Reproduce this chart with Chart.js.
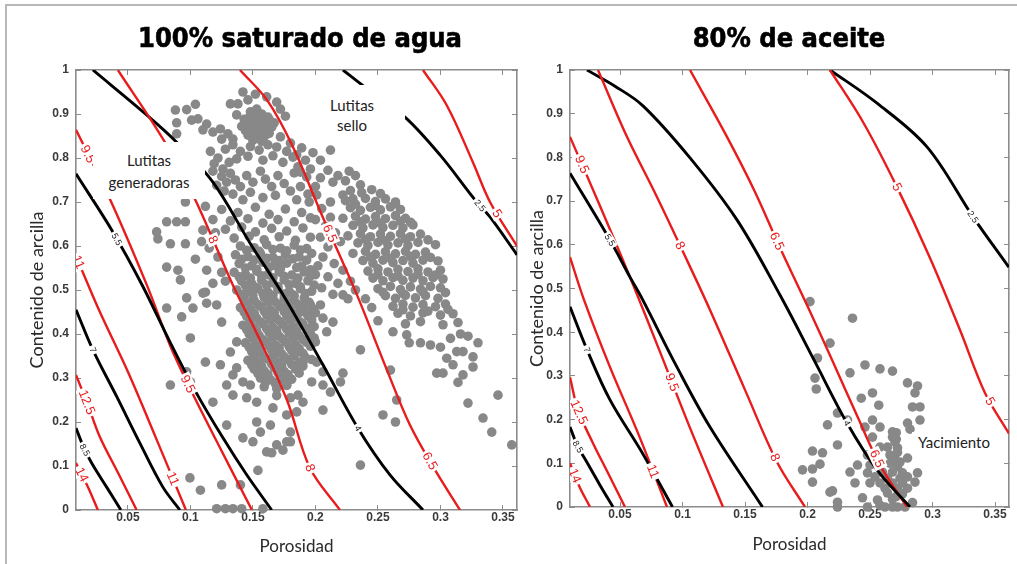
<!DOCTYPE html>
<html lang="es">
<head>
<meta charset="utf-8">
<title>Contenido de arcilla vs porosidad</title>
<script src="https://cdn.jsdelivr.net/npm/chart.js@4.4.1/dist/chart.umd.min.js"></script>
<style>
  html, body { margin:0; padding:0; background:#fff; }
  #lienzo { position:relative; width:1017px; height:564px; overflow:hidden; font-family: Lato, "Open Sans", sans-serif; }
  canvas { position:absolute; left:0; top:0; }
  .titulo { position:absolute; top:23px; line-height:30px; font-family:"DejaVu Sans Condensed","DejaVu Sans",sans-serif; font-stretch:condensed; font-weight:bold; font-size:27px; color:#000; -webkit-text-stroke:0.6px #000; transform:translateX(-50%); white-space:nowrap; }
  .nota { position:absolute; background:#fff; color:#222; font-size:15px; text-align:center; box-sizing:border-box; }
  .marco { position:absolute; background:#b8b8b8; }
</style>
</head>
<body>
<div id="lienzo">
  <div class="marco" style="left:5px; top:4px; width:1012px; height:2px"></div>
  <div class="marco" style="left:5px; top:4px; width:2px; height:560px"></div>
  <canvas id="graficoIzq" width="1017" height="564"></canvas>
  <canvas id="graficoDer" width="1017" height="564"></canvas>
  <div class="titulo" style="left:300px">100% saturado de agua</div>
  <div class="titulo" style="left:789px">80% de aceite</div>
  <div class="nota" style="left:93px; top:142px; width:112px; height:57px; padding-top:7px; line-height:22px">Lutitas<br>generadoras</div>
  <div class="nota" style="left:305px; top:85px; width:100px; height:57px; padding:10px 6px 0 0; line-height:20px">Lutitas<br>sello</div>
  <div class="nota" style="left:912px; top:432px; width:84px; height:20px; line-height:20px">Yacimiento</div>
</div>
<script>
// marcas de los ejes
const xMarcas = [0.05, 0.1, 0.15, 0.2, 0.25, 0.3, 0.35];
const xEtiquetas = ['0.05', '0.1', '0.15', '0.2', '0.25', '0.3', '0.35'];
const yMarcas = [0, 0.1, 0.2, 0.3, 0.4, 0.5, 0.6, 0.7, 0.8, 0.9, 1];
const yEtiquetas = ['0', '0.1', '0.2', '0.3', '0.4', '0.5', '0.6', '0.7', '0.8', '0.9', '1'];

// ---- 100% saturado de agua: curvas (porosidad, arcilla)
const izqRojo14 = [[0.0085,0.107],[0.015,0.07],[0.020,0.04],[0.026,0]];
const izqNegro85 = [[0.0085,0.186],[0.015,0.14],[0.021,0.107],[0.033,0.052],[0.0444,0]];
const izqRojo125 = [[0.0085,0.307],[0.018,0.239],[0.0276,0.166],[0.0424,0.083],[0.057,0]];
const izqNegro7 = [[0.0085,0.455],[0.022,0.364],[0.0412,0.257],[0.0596,0.152],[0.078,0.052],[0.0916,0]];
const izqRojo11 = [[0.0085,0.577],[0.0268,0.455],[0.05,0.314],[0.0724,0.164],[0.0964,0]];
const izqNegro55 = [[0.0085,0.764],[0.038,0.632],[0.062,0.508],[0.0836,0.382],[0.1044,0.268],[0.126,0.164],[0.145,0.08],[0.165,0]];
const izqRojo95 = [[0.0085,0.864],[0.0356,0.707],[0.0652,0.511],[0.0836,0.375],[0.0972,0.291],[0.1212,0.155],[0.1492,0]];
const izqRojo8 = [[0.042,1.0],[0.0796,0.836],[0.1036,0.707],[0.134,0.511],[0.153,0.402],[0.1772,0.25],[0.1956,0.0955],[0.2196,0]];
const izqNegro4 = [[0.022,1.0],[0.065,0.898],[0.089,0.836],[0.118,0.745],[0.1476,0.607],[0.1756,0.482],[0.206,0.33],[0.234,0.186],[0.2596,0.08],[0.286,0]];
const izqRojo65 = [[0.1396,1.0],[0.1612,0.932],[0.1812,0.83],[0.2052,0.670],[0.2332,0.489],[0.2572,0.318],[0.2756,0.193],[0.2956,0.091],[0.3156,0]];
const izqNegro25 = [[0.222,1.0],[0.2396,0.961],[0.2716,0.893],[0.2996,0.807],[0.3276,0.705],[0.3396,0.666],[0.3612,0.58]];
const izqRojo5 = [[0.286,1.0],[0.305,0.92],[0.326,0.79],[0.3396,0.70],[0.3612,0.60]];

// ---- 80% de aceite: curvas
const derRojo14 = [[0.01,0.10],[0.017,0.05],[0.026,0]];
const derNegro85 = [[0.01,0.183],[0.016,0.14],[0.024,0.10],[0.034,0.05],[0.0444,0]];
const derRojo125 = [[0.01,0.297],[0.0164,0.222],[0.0284,0.146],[0.04,0.08],[0.054,0]];
const derNegro7 = [[0.01,0.458],[0.0236,0.36],[0.042,0.245],[0.068,0.123],[0.092,0]];
const derRojo11 = [[0.01,0.572],[0.0212,0.474],[0.042,0.32],[0.0644,0.169],[0.0876,0]];
const derNegro55 = [[0.01,0.764],[0.042,0.611],[0.058,0.526],[0.068,0.475],[0.0956,0.32],[0.122,0.183],[0.164,0]];
const derRojo95 = [[0.01,0.847],[0.034,0.689],[0.058,0.526],[0.082,0.355],[0.106,0.181],[0.1324,0]];
const derRojo8 = [[0.0324,1],[0.0556,0.847],[0.0788,0.714],[0.1004,0.584],[0.122,0.451],[0.15,0.268],[0.1756,0.103],[0.198,0]];
const derNegro4 = [[0.0236,1],[0.046,0.963],[0.0684,0.918],[0.106,0.799],[0.1436,0.657],[0.178,0.485],[0.206,0.332],[0.2316,0.192],[0.2556,0.085],[0.282,0]];
const derRojo65 = [[0.106,1],[0.1356,0.847],[0.158,0.721],[0.178,0.593],[0.1996,0.462],[0.2204,0.332],[0.2404,0.204],[0.258,0.096],[0.2796,0]];
const derRojo5 = [[0.218,1],[0.2444,0.881],[0.2716,0.732],[0.298,0.570],[0.322,0.405],[0.342,0.261],[0.3612,0.168]];
const derNegro25 = [[0.218,1],[0.2556,0.924],[0.2956,0.824],[0.3324,0.664],[0.361,0.549]];

// ---- muestras (porosidad, arcilla)
const izqPuntos = [
 [0.088,0.909],[0.097,0.910],[0.104,0.922],[0.089,0.880],[0.089,0.855],[0.101,0.886],[0.106,0.889],[0.113,0.877],[0.110,0.864],[0.118,0.859],
 [0.124,0.866],[0.130,0.855],[0.134,0.843],[0.132,0.923],[0.138,0.923],[0.142,0.950],[0.137,0.898],[0.148,0.905],[0.153,0.911],[0.157,0.900],
 [0.161,0.882],[0.169,0.927],[0.172,0.911],[0.146,0.932],[0.152,0.945],[0.161,0.939],[0.176,0.895],[0.125,0.843],
 [0.143,0.888],[0.147,0.892],[0.151,0.895],[0.155,0.890],[0.159,0.893],[0.163,0.887],[0.145,0.875],[0.149,0.879],[0.153,0.877],[0.157,0.880],
 [0.161,0.874],[0.165,0.870],[0.144,0.862],[0.148,0.866],[0.152,0.862],[0.156,0.866],[0.160,0.860],[0.146,0.852],[0.151,0.850],[0.155,0.853],
 [0.159,0.848],[0.163,0.856],[0.167,0.880],[0.141,0.872],[0.150,0.840],[0.157,0.838],
 [0.149,0.886],[0.153,0.868],[0.157,0.858],[0.161,0.866],[0.155,0.879],[0.147,0.870],[0.151,0.857],[0.159,0.884],
 [0.153,0.884],[0.150,0.870],[0.157,0.872],[0.154,0.860],[0.162,0.893],[0.145,0.884],
 [0.134,0.830],[0.148,0.826],[0.140,0.815],[0.162,0.830],[0.172,0.848],[0.169,0.825],[0.180,0.834],[0.189,0.823],[0.182,0.802],[0.192,0.795],
 [0.177,0.815],[0.155,0.818],[0.146,0.804],[0.166,0.805],[0.174,0.790],[0.158,0.795],[0.116,0.815],[0.122,0.800],[0.128,0.820],[0.119,0.787],
 [0.131,0.790],[0.126,0.775],[0.137,0.798],[0.198,0.812],[0.204,0.795],[0.212,0.818],[0.186,0.780],[0.196,0.775],[0.210,0.772],[0.204,0.755],
 [0.218,0.760],[0.227,0.770],[0.183,0.766],[0.193,0.757],[0.214,0.745],[0.224,0.748],[0.232,0.760],[0.188,0.768],[0.185,0.807],
 [0.118,0.770],[0.125,0.758],[0.132,0.765],[0.129,0.745],[0.121,0.738],[0.136,0.750],[0.140,0.735],[0.127,0.725],[0.134,0.718],[0.145,0.760],
 [0.150,0.745],[0.156,0.770],[0.160,0.752],[0.148,0.722],[0.165,0.735],[0.170,0.760],[0.175,0.742],[0.168,0.715],[0.180,0.725],[0.158,0.710],
 [0.142,0.705],[0.188,0.735],[0.185,0.705],[0.194,0.718],[0.200,0.735],[0.201,0.716],[0.212,0.700],[0.222,0.716],[0.230,0.707],[0.236,0.739],
 [0.073,0.632],[0.081,0.655],[0.089,0.655],[0.096,0.655],[0.074,0.616],[0.084,0.605],[0.096,0.605],[0.081,0.552],[0.090,0.545],[0.092,0.523],
 [0.104,0.570],[0.109,0.610],[0.110,0.636],[0.096,0.700],[0.112,0.690],[0.118,0.660],[0.120,0.630],[0.115,0.595],[0.122,0.575],[0.113,0.545],
 [0.125,0.540],[0.118,0.515],[0.128,0.520],[0.112,0.495],[0.081,0.459],[0.093,0.439],[0.097,0.482],[0.102,0.459],[0.110,0.493],[0.113,0.470],
 [0.100,0.391],[0.112,0.336],[0.084,0.284],[0.100,0.291],[0.118,0.245],[0.121,0.466],[0.125,0.427],[0.137,0.382],[0.132,0.359],[0.124,0.330],
 [0.137,0.323],[0.142,0.291],[0.148,0.284],[0.134,0.307],[0.129,0.284],[0.134,0.261],[0.145,0.255],[0.153,0.245],[0.097,0.314],
 [0.125,0.683],[0.138,0.676],[0.152,0.688],[0.163,0.672],[0.176,0.684],[0.189,0.676],
 [0.132,0.657],[0.146,0.662],[0.158,0.652],[0.170,0.660],[0.183,0.655],[0.196,0.664],
 [0.128,0.638],[0.141,0.643],[0.152,0.632],[0.165,0.640],[0.177,0.634],[0.190,0.641],
 [0.135,0.618],[0.147,0.622],[0.159,0.614],[0.171,0.621],[0.184,0.613],[0.196,0.620],
 [0.140,0.600],[0.151,0.596],[0.161,0.603],[0.172,0.595],[0.183,0.602],[0.193,0.594],
 [0.136,0.580],[0.146,0.576],[0.156,0.583],[0.166,0.574],[0.176,0.581],[0.187,0.575],[0.197,0.583],
 [0.139,0.560],[0.149,0.555],[0.158,0.563],[0.167,0.556],[0.177,0.561],[0.189,0.554],
 [0.135,0.540],[0.144,0.536],[0.153,0.543],[0.162,0.535],[0.171,0.541],[0.181,0.534],[0.191,0.541],[0.200,0.535],
 [0.141,0.520],[0.149,0.515],[0.157,0.522],[0.166,0.516],[0.175,0.523],[0.184,0.515],[0.194,0.521],
 [0.137,0.500],[0.146,0.496],[0.154,0.503],[0.162,0.495],[0.170,0.502],[0.179,0.496],[0.188,0.503],[0.197,0.497],
 [0.143,0.480],[0.151,0.476],[0.159,0.483],[0.167,0.475],[0.175,0.482],[0.183,0.476],[0.191,0.482],
 [0.140,0.460],[0.148,0.456],[0.156,0.463],[0.164,0.455],[0.172,0.462],[0.180,0.456],[0.189,0.463],[0.198,0.457],
 [0.145,0.440],[0.153,0.436],[0.161,0.443],[0.169,0.435],[0.177,0.442],[0.185,0.436],[0.194,0.441],
 [0.142,0.420],[0.150,0.416],[0.158,0.423],[0.166,0.415],[0.174,0.422],[0.182,0.416],[0.190,0.423],[0.199,0.417],
 [0.147,0.400],[0.155,0.396],[0.163,0.403],[0.171,0.395],[0.179,0.402],[0.187,0.396],[0.196,0.401],
 [0.144,0.380],[0.152,0.376],[0.160,0.383],[0.168,0.375],[0.176,0.382],[0.184,0.376],[0.193,0.381],
 [0.149,0.360],[0.157,0.356],[0.165,0.363],[0.173,0.355],[0.181,0.362],[0.190,0.356],
 [0.146,0.340],[0.154,0.336],[0.162,0.343],[0.170,0.335],[0.178,0.342],[0.187,0.336],[0.197,0.342],
 [0.151,0.320],[0.159,0.316],[0.167,0.323],[0.175,0.315],[0.184,0.321],
 [0.156,0.300],[0.164,0.296],[0.172,0.303],[0.181,0.297],
 [0.159,0.280],[0.169,0.276],[0.177,0.283],
 [0.145,0.590],[0.155,0.588],[0.166,0.592],[0.177,0.589],[0.188,0.591],
 [0.141,0.570],[0.151,0.568],[0.161,0.572],[0.171,0.567],[0.182,0.571],[0.193,0.568],
 [0.144,0.550],[0.153,0.547],[0.163,0.552],[0.172,0.548],[0.185,0.551],[0.196,0.546],
 [0.139,0.530],[0.148,0.527],[0.157,0.532],[0.166,0.528],[0.175,0.531],[0.186,0.527],[0.196,0.532],
 [0.144,0.510],[0.152,0.506],[0.161,0.511],[0.170,0.508],[0.179,0.512],[0.188,0.507],[0.199,0.511],
 [0.141,0.490],[0.150,0.487],[0.158,0.492],[0.166,0.488],[0.175,0.491],[0.183,0.487],[0.192,0.492],
 [0.146,0.470],[0.154,0.467],[0.162,0.472],[0.170,0.468],[0.178,0.471],[0.186,0.467],[0.195,0.472],
 [0.143,0.450],[0.151,0.447],[0.159,0.452],[0.167,0.448],[0.175,0.451],[0.183,0.447],[0.191,0.452],[0.200,0.448],
 [0.148,0.430],[0.156,0.427],[0.164,0.432],[0.172,0.428],[0.180,0.431],[0.188,0.427],[0.197,0.432],
 [0.145,0.410],[0.153,0.407],[0.161,0.412],[0.169,0.408],[0.177,0.411],[0.185,0.407],[0.193,0.412],
 [0.150,0.390],[0.158,0.387],[0.166,0.392],[0.174,0.388],[0.182,0.391],[0.190,0.387],[0.199,0.391],
 [0.147,0.370],[0.155,0.367],[0.163,0.372],[0.171,0.368],[0.179,0.371],[0.187,0.367],[0.196,0.372],
 [0.151,0.350],[0.159,0.347],[0.167,0.352],[0.175,0.348],[0.183,0.351],[0.192,0.347],
 [0.149,0.330],[0.157,0.327],[0.165,0.332],[0.173,0.328],[0.181,0.331],[0.190,0.327],
 [0.154,0.310],[0.162,0.307],[0.170,0.312],[0.178,0.308],[0.187,0.311],
 [0.160,0.290],[0.168,0.287],[0.176,0.292],
 [0.182,0.489],[0.188,0.450],[0.196,0.466],[0.204,0.466],[0.206,0.436],[0.214,0.427],[0.209,0.405],[0.196,0.414],[0.200,0.382],[0.185,0.359],
 [0.190,0.336],[0.201,0.336],[0.206,0.314],[0.197,0.291],[0.186,0.261],[0.206,0.284],[0.212,0.268],[0.220,0.291],[0.222,0.311],[0.190,0.245],
 [0.206,0.227],[0.180,0.177],[0.180,0.155],[0.222,0.489],
 [0.195,0.700],[0.205,0.685],[0.212,0.665],[0.200,0.660],[0.208,0.645],[0.216,0.630],[0.204,0.620],[0.210,0.598],[0.220,0.610],[0.206,0.575],
 [0.215,0.560],[0.202,0.555],[0.222,0.545],[0.210,0.530],[0.218,0.515],[0.205,0.505],[0.228,0.520],[0.214,0.490],[0.226,0.480],[0.232,0.500],
 [0.228,0.726],[0.237,0.721],[0.245,0.728],[0.252,0.719],
 [0.224,0.703],[0.240,0.708],[0.248,0.701],[0.256,0.707],[0.264,0.700],
 [0.228,0.687],[0.236,0.681],[0.244,0.688],[0.252,0.682],[0.260,0.689],[0.268,0.683],
 [0.222,0.663],[0.232,0.668],[0.240,0.661],[0.248,0.667],[0.256,0.662],[0.264,0.669],[0.272,0.663],
 [0.230,0.647],[0.238,0.641],[0.246,0.648],[0.254,0.642],[0.262,0.647],[0.270,0.641],[0.278,0.648],
 [0.226,0.623],[0.236,0.628],[0.244,0.621],[0.252,0.627],[0.260,0.622],[0.268,0.628],[0.276,0.621],[0.284,0.627],
 [0.234,0.607],[0.242,0.601],[0.250,0.608],[0.258,0.602],[0.266,0.607],[0.274,0.601],[0.282,0.608],[0.296,0.603],
 [0.230,0.583],[0.240,0.588],[0.248,0.581],[0.256,0.587],[0.264,0.582],[0.272,0.588],[0.280,0.581],[0.288,0.586],
 [0.238,0.567],[0.246,0.561],[0.254,0.568],[0.262,0.562],[0.270,0.567],[0.278,0.561],[0.286,0.568],[0.298,0.566],
 [0.242,0.543],[0.250,0.548],[0.258,0.541],[0.266,0.547],[0.274,0.542],[0.282,0.548],[0.290,0.541],[0.300,0.545],
 [0.246,0.527],[0.254,0.521],[0.262,0.528],[0.270,0.522],[0.278,0.527],[0.286,0.521],[0.294,0.528],[0.302,0.525],
 [0.250,0.503],[0.260,0.508],[0.268,0.501],[0.276,0.507],[0.284,0.502],[0.292,0.508],[0.300,0.505],
 [0.256,0.487],[0.264,0.481],[0.272,0.488],[0.280,0.482],[0.288,0.487],[0.298,0.481],
 [0.262,0.463],[0.270,0.468],[0.278,0.461],[0.286,0.467],[0.296,0.462],[0.304,0.468],
 [0.266,0.447],[0.276,0.441],[0.286,0.448],[0.300,0.443],[0.310,0.446],
 [0.272,0.423],[0.284,0.428],[0.302,0.421],[0.314,0.426],
 [0.232,0.695],[0.248,0.692],[0.264,0.696],[0.236,0.655],[0.252,0.652],[0.268,0.656],[0.276,0.654],
 [0.240,0.615],[0.256,0.612],[0.272,0.616],[0.290,0.614],[0.244,0.575],[0.260,0.572],[0.276,0.576],[0.292,0.574],
 [0.250,0.535],[0.266,0.532],[0.282,0.536],[0.296,0.534],[0.254,0.495],[0.270,0.492],[0.286,0.496],[0.304,0.494],
 [0.270,0.455],[0.290,0.452],[0.306,0.456],
 [0.273,0.398],[0.275,0.380],[0.284,0.380],[0.292,0.375],[0.300,0.370],[0.308,0.390],[0.313,0.360],[0.305,0.345],[0.318,0.360],[0.326,0.348],
 [0.326,0.325],[0.310,0.330],[0.314,0.290],[0.318,0.307],[0.297,0.311],[0.302,0.311],[0.322,0.243],[0.334,0.209],[0.341,0.177],[0.346,0.261],
 [0.357,0.148],[0.260,0.318],[0.265,0.250],[0.254,0.216],[0.264,0.200],[0.236,0.364],[0.236,0.102],[0.316,0.400],[0.322,0.395],[0.330,0.380],
 [0.262,0.405],[0.250,0.430],[0.245,0.460],[0.240,0.480],
 [0.142,0.164],[0.153,0.200],[0.156,0.177],[0.164,0.193],[0.177,0.155],[0.161,0.132],[0.169,0.148],[0.154,0.090],[0.0996,0.073],[0.125,0.057],
 [0.140,0.057],[0.121,0.003],[0.128,0.003],[0.134,0.003],[0.141,0.003],[0.158,0.003],[0.108,0.045],[0.169,0.290],[0.177,0.284],[0.169,0.260],
 [0.180,0.255],[0.166,0.232],[0.177,0.216],[0.185,0.223],[0.129,0.193],[0.150,0.155],[0.165,0.130],[0.174,0.136]
];
const derPuntos = [
 [0.202,0.470],[0.236,0.432],[0.218,0.375],[0.208,0.341],[0.206,0.295],[0.207,0.270],[0.246,0.325],[0.234,0.307],[0.258,0.316],[0.268,0.311],
 [0.280,0.284],[0.288,0.277],[0.286,0.261],[0.252,0.261],[0.243,0.249],[0.257,0.233],[0.284,0.229],[0.290,0.229],[0.224,0.215],[0.232,0.199],
 [0.252,0.199],[0.290,0.199],[0.216,0.188],[0.246,0.183],[0.258,0.183],[0.268,0.172],[0.280,0.192],[0.282,0.178],[0.252,0.160],[0.268,0.160],
 [0.270,0.149],[0.224,0.142],[0.258,0.137],[0.264,0.137],[0.272,0.135],[0.204,0.128],[0.212,0.124],[0.248,0.119],[0.266,0.119],[0.256,0.112],
 [0.280,0.112],[0.210,0.098],[0.240,0.096],[0.250,0.096],[0.266,0.100],[0.274,0.103],[0.196,0.085],[0.204,0.087],[0.234,0.080],[0.248,0.078],
 [0.260,0.080],[0.268,0.080],[0.276,0.078],[0.288,0.078],[0.254,0.069],[0.264,0.066],[0.274,0.066],[0.280,0.069],[0.204,0.057],[0.238,0.055],
 [0.250,0.055],[0.258,0.055],[0.268,0.055],[0.276,0.055],[0.286,0.057],[0.262,0.043],[0.272,0.043],[0.280,0.043],[0.220,0.037],[0.264,0.032],
 [0.276,0.030],[0.244,0.021],[0.256,0.016],[0.268,0.018],[0.224,0.011],[0.224,0],[0.248,0],[0.262,0],[0.268,0],[0.272,0],
 [0.278,0],[0.218,0.034],[0.271,0.170],[0.271,0.155],[0.272,0.125],[0.270,0.110],[0.272,0.092],[0.271,0.024],[0.258,0.004],[0.284,0.010]
];

const ROJO = 'rgb(232,28,28)';
const NEGRO = '#000';

// curvas y sus etiquetas: [datos, color, [texto, porosidad de la etiqueta]...]
const curvasIzq = [
  [izqRojo14, ROJO, ['14', 0.0132]],
  [izqNegro85, NEGRO, ['8.5', 0.0156]],
  [izqRojo125, ROJO, ['12.5', 0.0172]],
  [izqNegro7, NEGRO, ['7', 0.022]],
  [izqRojo11, ROJO, ['11', 0.0105], ['11', 0.086]],
  [izqNegro55, NEGRO, ['5.5', 0.0412]],
  [izqRojo95, ROJO, ['9.5', 0.018], ['9.5', 0.098]],
  [izqRojo8, ROJO, ['8', 0.118], ['8', 0.1956]],
  [izqNegro4, NEGRO, ['4', 0.234]],
  [izqRojo65, ROJO, ['6.5', 0.2116], ['6.5', 0.2916]],
  [izqNegro25, NEGRO, ['2.5', 0.3316]],
  [izqRojo5, ROJO, ['5', 0.3452]]
];
const curvasDer = [
  [derRojo14, ROJO, ['14', 0.014]],
  [derNegro85, NEGRO, ['8.5', 0.0164]],
  [derRojo125, ROJO, ['12.5', 0.0172]],
  [derNegro7, NEGRO, ['7', 0.0236]],
  [derRojo11, ROJO, ['11', 0.0764]],
  [derNegro55, NEGRO, ['5.5', 0.042]],
  [derRojo95, ROJO, ['9.5', 0.0196], ['9.5', 0.0916]],
  [derRojo8, ROJO, ['8', 0.098], ['8', 0.174]],
  [derNegro4, NEGRO, ['4', 0.2316]],
  [derRojo65, ROJO, ['6.5', 0.1756], ['6.5', 0.2556]],
  [derRojo5, ROJO, ['5', 0.2716], ['5', 0.346]],
  [derNegro25, NEGRO, ['2.5', 0.3324]]
];

// etiquetas de las curvas de nivel, giradas segun la curva
function pluginEtiquetas(curvas) {
  return {
    id: 'etiquetasContorno',
    afterDatasetsDraw(chart) {
      const {ctx, chartArea, scales} = chart;
      const sx = scales.x, sy = scales.y;
      ctx.save();
      ctx.beginPath();
      ctx.rect(chartArea.left, chartArea.top, chartArea.right - chartArea.left, chartArea.bottom - chartArea.top);
      ctx.clip();
      curvas.forEach(c => {
        const pts = c[0].map(p => [sx.getPixelForValue(p[0]), sy.getPixelForValue(p[1])]);
        c.slice(2).forEach(([texto, xv]) => {
          const px = sx.getPixelForValue(xv);
          let i = 0;
          while (i < pts.length - 2 && pts[i + 1][0] < px) i++;
          const [x0, y0] = pts[i], [x1, y1] = pts[i + 1];
          const t = (px - x0) / (x1 - x0);
          const py = y0 + t * (y1 - y0);
          const ang = Math.atan2(y1 - y0, x1 - x0);
          const rojo = c[1] === ROJO;
          ctx.save();
          ctx.translate(px, py);
          ctx.rotate(ang);
          ctx.font = rojo ? '13px "Liberation Sans", Arial' : '9px "Liberation Sans", Arial';
          const w = ctx.measureText(texto).width + 4;
          const h = rojo ? 13 : 9;
          ctx.fillStyle = '#fff';
          ctx.fillRect(-w / 2, -h / 2, w, h);
          ctx.fillStyle = rojo ? ROJO : '#222';
          ctx.textAlign = 'center';
          ctx.textBaseline = 'middle';
          ctx.fillText(texto, 0, 0.5);
          ctx.restore();
        });
      });
      ctx.restore();
    }
  };
}

const fuenteMarcas = {family: '"Liberation Sans", Arial', size: 12, weight: 'bold'};
const colorEje = '#8c8c8c';

function crearGrafico(id, puntos, curvas, cfg) {
  const datasets = curvas.map(c => ({
    data: c[0].map(p => ({x: p[0], y: p[1]})),
    showLine: true,
    borderColor: c[1],
    borderWidth: c[1] === ROJO ? 2.4 : 2.9,
    pointRadius: 0,
    tension: 0.35,
    order: 0
  }));
  datasets.push({
    data: puntos.map(p => ({x: p[0], y: p[1]})),
    pointRadius: 4.8,
    pointBackgroundColor: '#888888',
    pointBorderWidth: 0,
    clip: false,
    order: 1
  });

  const rejilla = {drawOnChartArea: false, tickLength: -5, color: colorEje, lineWidth: 1};
  const borde = {color: colorEje, width: 1.6};
  const marcasX = s => { s.ticks = xMarcas.map(v => ({value: v})); };
  const marcasY = s => { s.ticks = yMarcas.map(v => ({value: v})); };

  return new Chart(document.getElementById(id), {
    type: 'scatter',
    data: {datasets},
    options: {
      responsive: false,
      animation: false,
      events: [],
      layout: {padding: cfg.padding},
      plugins: {legend: {display: false}, tooltip: {enabled: false}},
      scales: {
        x: {
          type: 'linear', position: 'bottom', min: cfg.xMin, max: cfg.xMax,
          afterBuildTicks: marcasX,
          afterFit: s => { s.height = cfg.altoX; },
          ticks: {autoSkip: false, maxRotation: 0, padding: 5, color: '#3a3a3a', font: fuenteMarcas,
                  callback: v => xEtiquetas[xMarcas.indexOf(v)]},
          grid: rejilla, border: borde,
          title: {display: true, text: 'Porosidad', color: '#2a2a2a', font: {family: 'Lato', size: 17},
                  padding: {top: 0, bottom: cfg.padTituloX}}
        },
        y: {
          type: 'linear', position: 'left', min: 0, max: 1,
          afterBuildTicks: marcasY,
          afterFit: s => { s.width = 60; },
          ticks: {autoSkip: false, padding: 12, color: '#3a3a3a', font: fuenteMarcas,
                  callback: v => yEtiquetas[yMarcas.indexOf(v)]},
          grid: rejilla, border: borde,
          title: {display: true, text: 'Contenido de arcilla', color: '#2a2a2a', font: {family: 'Lato', size: 18},
                  padding: {top: cfg.padTituloY, bottom: 0}}
        },
        x2: {
          type: 'linear', position: 'top', min: cfg.xMin, max: cfg.xMax,
          afterBuildTicks: marcasX,
          afterFit: s => { s.height = 0; },
          ticks: {autoSkip: false, color: 'rgba(0,0,0,0)'},
          grid: rejilla, border: borde
        },
        y2: {
          type: 'linear', position: 'right', min: 0, max: 1,
          afterBuildTicks: marcasY,
          afterFit: s => { s.width = 0; },
          ticks: {autoSkip: false, color: 'rgba(0,0,0,0)'},
          grid: rejilla, border: borde
        }
      }
    },
    plugins: [pluginEtiquetas(curvas)]
  });
}

crearGrafico('graficoIzq', izqPuntos, curvasIzq, {
  xMin: 0.0085, xMax: 0.3612, altoX: 50, padTituloX: 3, padTituloY: 10,
  padding: {left: 16, right: 500, top: 70, bottom: 4}
});
crearGrafico('graficoDer', derPuntos, curvasDer, {
  xMin: 0.01, xMax: 0.3612, altoX: 53, padTituloX: 5, padTituloY: 16,
  padding: {left: 510, right: 8, top: 70, bottom: 4}
});
</script>
</body>
</html>
